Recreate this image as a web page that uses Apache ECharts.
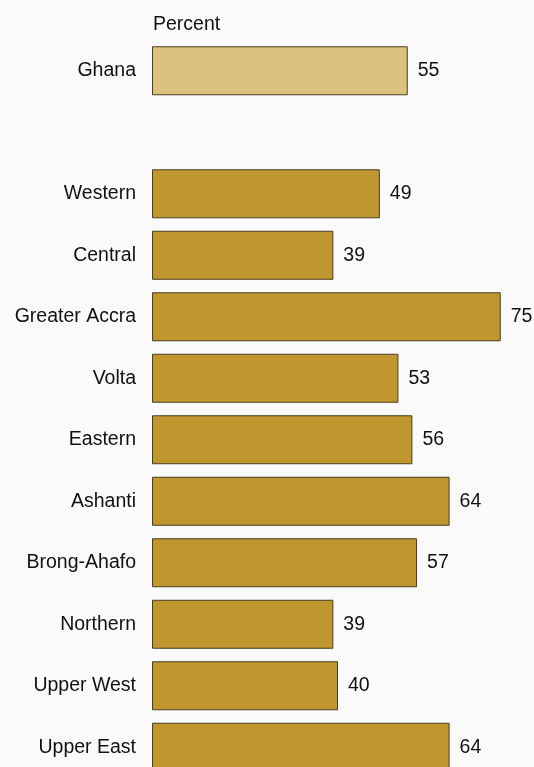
<!DOCTYPE html>
<html>
<head>
<meta charset="utf-8">
<script src="https://cdn.jsdelivr.net/npm/echarts@6/dist/echarts.min.js"></script>
<style>
html,body{margin:0;padding:0;background:#fafafa;}
#c{width:534px;height:767px;}
</style>
</head>
<body>
<div id="c"></div>
<script>
var categories = ['Ghana', '', 'Western', 'Central', 'Greater Accra', 'Volta', 'Eastern', 'Ashanti', 'Brong-Ahafo', 'Northern', 'Upper West', 'Upper East'];
var values = [55, null, 49, 39, 75, 53, 56, 64, 57, 39, 40, 64];
var axisTitle = 'Percent';

var chart = echarts.init(document.getElementById('c'), null, {renderer: 'canvas'});
var data = values.map(function (v, i) {
  if (v === null) return '-';
  return {
    value: v,
    itemStyle: { color: i === 0 ? '#dcc27f' : '#c0962f' }
  };
});
chart.setOption({
  backgroundColor: '#fafafa',
  animation: false,
  title: {
    text: axisTitle,
    left: 148,
    top: 10,
    textStyle: { fontFamily: 'Liberation Sans', fontSize: 19.5, fontWeight: 'normal', color: '#111' }
  },
  grid: { left: 152, top: 40, width: 372, height: 738, outerBoundsMode: 'none' },
  xAxis: {
    type: 'value', min: 0, max: 80, show: false
  },
  yAxis: {
    type: 'category',
    data: categories,
    inverse: true,
    axisLine: { show: false },
    axisTick: { show: false },
    axisLabel: {
      margin: 16,
      fontFamily: 'Liberation Sans',
      fontSize: 19.5,
      color: '#111'
    }
  },
  series: [{
    type: 'bar',
    data: data,
    barWidth: 49,
    itemStyle: { borderColor: '#4a3c22', borderWidth: 1 },
    label: {
      show: true,
      position: 'right',
      distance: 10,
      fontFamily: 'Liberation Sans',
      fontSize: 19.5,
      color: '#111'
    }
  }]
});
</script>
</body>
</html>
